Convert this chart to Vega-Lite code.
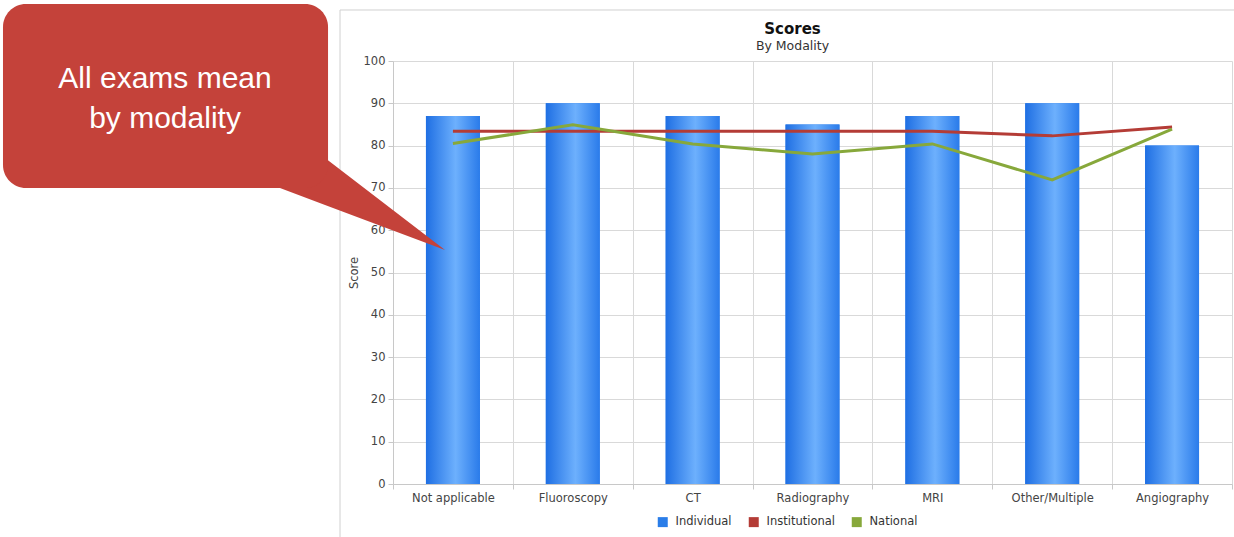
{
  "$schema": "https://vega.github.io/schema/vega-lite/v6.json",
  "width": 839,
  "height": 423,
  "autosize": {"type": "none"},
  "padding": {"left": 393, "top": 61, "right": 2, "bottom": 53},
  "background": "white",
  "config": {"font": "DejaVu Sans", "view": {"stroke": null}},
  "title": {
    "text": "Scores",
    "subtitle": "By Modality",
    "anchor": "middle",
    "frame": "group",
    "dx": -20,
    "dy": 59,
    "fontSize": 15,
    "fontWeight": "bold",
    "color": "#111111",
    "subtitleFontSize": 12.5,
    "subtitleColor": "#333333",
    "subtitlePadding": 3,
    "offset": 10
  },
  "layer": [
    {
      "data": {
        "values": [
          {"modality": "Not applicable", "series": "Individual", "score": 87},
          {"modality": "Fluoroscopy", "series": "Individual", "score": 90},
          {"modality": "CT", "series": "Individual", "score": 87},
          {"modality": "Radiography", "series": "Individual", "score": 85},
          {"modality": "MRI", "series": "Individual", "score": 87},
          {"modality": "Other/Multiple", "series": "Individual", "score": 90},
          {"modality": "Angiography", "series": "Individual", "score": 80},
          {"modality": "Not applicable", "series": "Institutional", "score": 83.4},
          {"modality": "Fluoroscopy", "series": "Institutional", "score": 83.4},
          {"modality": "CT", "series": "Institutional", "score": 83.4},
          {"modality": "Radiography", "series": "Institutional", "score": 83.4},
          {"modality": "MRI", "series": "Institutional", "score": 83.4},
          {"modality": "Other/Multiple", "series": "Institutional", "score": 82.3},
          {"modality": "Angiography", "series": "Institutional", "score": 84.4},
          {"modality": "Not applicable", "series": "National", "score": 80.5},
          {"modality": "Fluoroscopy", "series": "National", "score": 84.9},
          {"modality": "CT", "series": "National", "score": 80.4},
          {"modality": "Radiography", "series": "National", "score": 78.0},
          {"modality": "MRI", "series": "National", "score": 80.4},
          {"modality": "Other/Multiple", "series": "National", "score": 71.9},
          {"modality": "Angiography", "series": "National", "score": 83.9}
        ]
      },
      "encoding": {
        "x": {
          "field": "modality",
          "type": "nominal",
          "sort": null,
          "scale": {"paddingInner": 0, "paddingOuter": 0},
          "axis": {
            "title": null,
            "labelAngle": 0,
            "tickBand": "extent",
            "grid": true,
            "gridColor": "#d9d9d9",
            "domainColor": "#c8c8c8",
            "tickColor": "#c8c8c8",
            "tickSize": 5,
            "labelFontSize": 11.5,
            "labelColor": "#444444",
            "labelPadding": 3
          }
        },
        "y": {
          "field": "score",
          "type": "quantitative",
          "scale": {"domain": [0, 100]},
          "axis": {
            "title": "Score",
            "values": [0, 10, 20, 30, 40, 50, 60, 70, 80, 90, 100],
            "grid": true,
            "gridColor": "#d9d9d9",
            "domainColor": "#c8c8c8",
            "tickColor": "#c8c8c8",
            "tickSize": 5,
            "labelFontSize": 11.5,
            "labelColor": "#444444",
            "labelPadding": 3,
            "titleFontSize": 11.5,
            "titleFontWeight": "normal",
            "titleColor": "#444444",
            "titlePadding": 4
          }
        }
      },
      "layer": [
        {
          "transform": [{"filter": "datum.series === 'Individual'"}],
          "mark": {"type": "bar", "width": {"band": 0.45}},
          "encoding": {
            "color": {
              "field": "series",
              "type": "nominal",
              "scale": {
                "domain": ["Individual", "Institutional", "National"],
                "range": ["#2a7de8", "#b43c36", "#87a83b"]
              },
              "legend": {
                "title": null,
                "orient": "none",
                "direction": "horizontal",
                "legendX": 264,
                "legendY": 455,
                "symbolType": "square",
                "symbolSize": 100,
                "symbolStrokeWidth": 0,
                "labelFontSize": 11.5,
                "labelColor": "#333333",
                "labelOffset": 7,
                "columnPadding": 16,
                "encode": {
                  "symbols": {
                    "update": {
                      "fill": {"scale": "color", "field": "value"},
                      "opacity": {"value": 1}
                    }
                  }
                }
              }
            }
          }
        },
        {
          "transform": [{"filter": "datum.series === 'Individual'"}],
          "mark": {
            "type": "bar",
            "width": {"band": 0.45},
            "fill": {
              "gradient": "linear",
              "x1": 0, "x2": 1, "y1": 0, "y2": 0,
              "stops": [
                {"offset": 0, "color": "#1f6fe3"},
                {"offset": 0.55, "color": "#6db0fd"},
                {"offset": 1, "color": "#2a7bea"}
              ]
            }
          }
        },
        {
          "transform": [{"filter": "datum.series !== 'Individual'"}],
          "mark": {"type": "line", "strokeWidth": 3},
          "encoding": {
            "color": {"field": "series", "type": "nominal"}
          }
        }
      ]
    },
    {
      "layer": [
        {
          "data": {"values": [{"x": -0.442, "x2": 7.2, "y": 112.06, "y2": -15}]},
          "mark": {"type": "rect", "fill": null, "fillOpacity": 0, "stroke": "#d0d0d0", "strokeWidth": 1},
          "encoding": {
            "x": {"field": "x", "type": "quantitative", "scale": {"domain": [0, 7], "nice": false, "zero": false}, "axis": null},
            "x2": {"field": "x2"},
            "y": {"field": "y", "type": "quantitative", "scale": {"domain": [0, 100]}, "axis": null},
            "y2": {"field": "y2"}
          }
        },
        {
          "data": {"values": [
            {"x": -0.943, "y": 69.98, "y2": 69.98},
            {"x": -0.567, "y": 77.07, "y2": 65.98},
            {"x": 0.434, "y": 55.32, "y2": 55.32}
          ]},
          "mark": {"type": "area", "color": "#c4423a", "opacity": 1},
          "encoding": {
            "x": {"field": "x", "type": "quantitative", "scale": {"domain": [0, 7], "nice": false, "zero": false}, "axis": null},
            "y": {"field": "y", "type": "quantitative", "scale": {"domain": [0, 100]}, "axis": null},
            "y2": {"field": "y2"}
          }
        },
        {
          "data": {"values": [{"x": -3.254, "x2": -0.542, "y": 113.48, "y2": 69.98}]},
          "mark": {"type": "rect", "color": "#c4423a", "cornerRadius": 23, "opacity": 1},
          "encoding": {
            "x": {"field": "x", "type": "quantitative", "scale": {"domain": [0, 7], "nice": false, "zero": false}, "axis": null},
            "x2": {"field": "x2"},
            "y": {"field": "y", "type": "quantitative", "scale": {"domain": [0, 100]}, "axis": null},
            "y2": {"field": "y2"}
          }
        },
        {
          "data": {"values": [{"x": -1.902, "y": 93.6, "label": "All exams mean\nby modality"}]},
          "mark": {
            "type": "text",
            "font": "Liberation Sans",
            "fontSize": 30,
            "color": "#ffffff",
            "align": "center",
            "baseline": "alphabetic",
            "lineBreak": "\n",
            "lineHeight": 40
          },
          "encoding": {
            "x": {"field": "x", "type": "quantitative", "scale": {"domain": [0, 7], "nice": false, "zero": false}, "axis": null},
            "y": {"field": "y", "type": "quantitative", "scale": {"domain": [0, 100]}, "axis": null},
            "text": {"field": "label", "type": "nominal"}
          }
        }
      ]
    }
  ],
  "resolve": {"scale": {"x": "independent"}, "axis": {"x": "independent", "y": "independent"}}
}
